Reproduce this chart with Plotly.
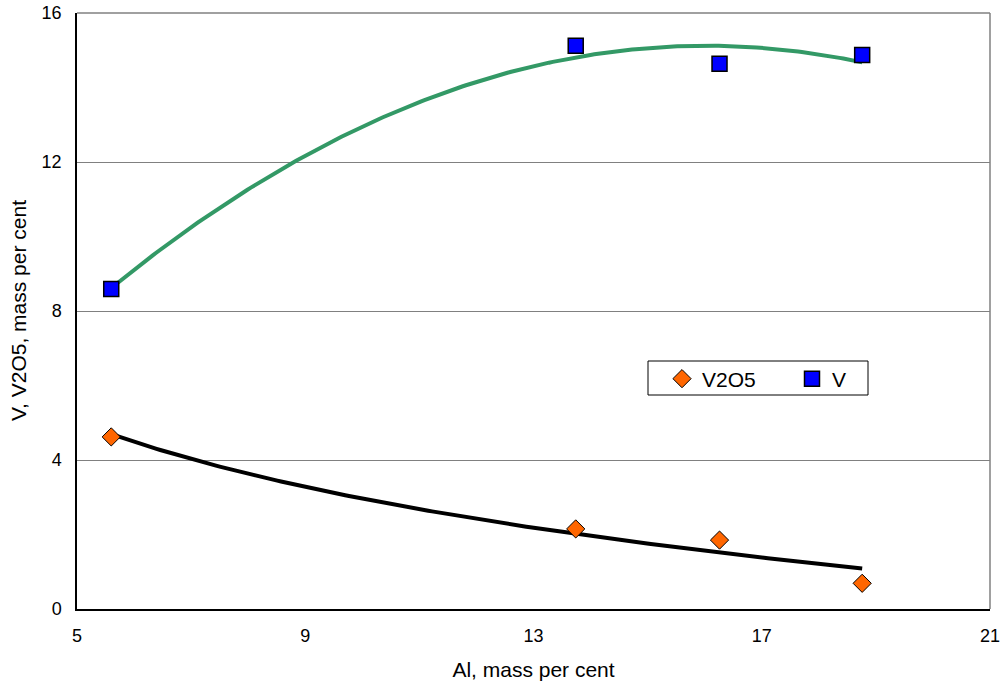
import numpy as np
import plotly.graph_objects as go

# Data
al = [5.60, 13.74, 16.26, 18.76]
v_vals = [8.59, 15.12, 14.64, 14.87]
v2o5_vals = [4.62, 2.15, 1.85, 0.69]
x_ticks = [5, 9, 13, 17, 21]
y_ticks = [0, 4, 8, 12, 16]

# Trend lines (as Excel would fit them): quadratic for V, logarithmic for V2O5
xs = np.linspace(min(al), max(al), 200)
pv = np.polyfit(al, v_vals, 2)
v_fit = np.polyval(pv, xs)
pl = np.polyfit(np.log(al), v2o5_vals, 1)
v2o5_fit = pl[0] * np.log(xs) + pl[1]

fig = go.Figure()
fig.add_trace(go.Scatter(x=xs, y=v_fit, mode="lines",
                         line=dict(color="#339966", width=4), showlegend=False, hoverinfo="skip"))
fig.add_trace(go.Scatter(x=xs, y=v2o5_fit, mode="lines",
                         line=dict(color="black", width=4), showlegend=False, hoverinfo="skip"))
fig.add_trace(go.Scatter(x=al, y=v2o5_vals, mode="markers", name="V2O5",
                         marker=dict(symbol="diamond", size=14, color="#FF6600",
                                     line=dict(color="black", width=1))))
fig.add_trace(go.Scatter(x=al, y=v_vals, mode="markers", name="V",
                         marker=dict(symbol="square", size=15, color="#0000FF",
                                     line=dict(color="black", width=1.5))))

font = "Liberation Sans, Arial, sans-serif"
L, R, T, B = 77, 16, 13, 77
W, H = 1006, 686
pw, ph = W - L - R, H - T - B


def px(x):
    return (x - L) / pw


def py(y):
    return (H - B - y) / ph


fig.update_layout(
    width=W, height=H,
    margin=dict(l=L, r=R, t=T, b=B, autoexpand=False),
    paper_bgcolor="white", plot_bgcolor="white",
    font=dict(family=font, size=18, color="black"),
    xaxis=dict(range=[5, 21], tickvals=x_ticks, showgrid=False, zeroline=False,
               showline=True, linecolor="black", linewidth=1.5, automargin=False,
               title=dict(text="Al, mass per cent", font=dict(size=21), standoff=17),
               ticks="", ticklen=0, ticklabelstandoff=10),
    yaxis=dict(range=[0, 16], tickvals=y_ticks, showgrid=True, gridcolor="#808080", gridwidth=1,
               zeroline=False, showline=True, linecolor="black", linewidth=1.5, automargin=False,
               ticks="", ticklen=0, ticklabelstandoff=10),
    legend=dict(orientation="h", x=px(662), y=py(379), xanchor="left", yanchor="middle",
                borderwidth=0, bgcolor="rgba(0,0,0,0)",
                font=dict(size=21), entrywidth=85, itemsizing="trace",
                traceorder="normal"),
    annotations=[
        dict(text="V, V2O5, mass per cent", xref="paper", yref="paper",
             x=px(18), y=0.5, xanchor="center", yanchor="middle", textangle=-90,
             showarrow=False, font=dict(size=21)),
    ],
    shapes=[
        dict(type="rect", xref="paper", yref="paper", x0=px(648), x1=px(868),
             y0=py(395), y1=py(361), line=dict(color="black", width=1),
             fillcolor="white", layer="below"),
        dict(type="line", xref="paper", yref="paper", x0=0, x1=1, y0=1, y1=1,
             line=dict(color="#808080", width=1.5)),
        dict(type="line", xref="paper", yref="paper", x0=1, x1=1, y0=0, y1=1,
             line=dict(color="#808080", width=1.5)),
    ],
)

fig.write_html("out.html")
